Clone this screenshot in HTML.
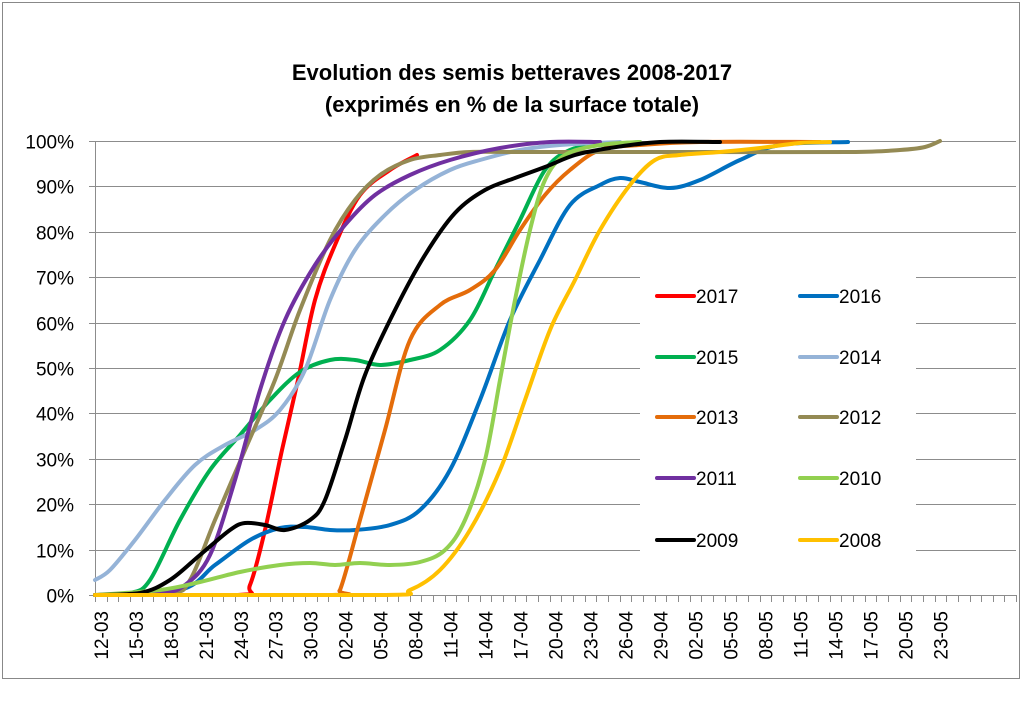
<!DOCTYPE html>
<html><head><meta charset="utf-8"><style>
body{margin:0;background:#fff;width:1024px;height:720px;overflow:hidden}
text{font-family:"Liberation Sans",sans-serif}
</style></head><body>
<svg id="s" width="1024" height="720" xmlns="http://www.w3.org/2000/svg">
<rect x="2.5" y="2.5" width="1017" height="676" fill="#fff" stroke="#888" stroke-width="1"/>
<text x="512" y="80" font-size="22" font-weight="bold" text-anchor="middle">Evolution des semis betteraves 2008-2017</text>
<text x="512" y="112" font-size="22" font-weight="bold" text-anchor="middle">(exprimés en % de la surface totale)</text>
<g id="grid" stroke="#8c8c8c" stroke-width="1"></g>
<g id="lab" font-size="19" fill="#000"></g>
<g id="series" fill="none" stroke-width="4" stroke-linejoin="round" stroke-linecap="round"></g>
<g id="leg" font-size="19"></g>
</svg>
<script>
var NS="http://www.w3.org/2000/svg";
function el(t,a,p,txt){var e=document.createElementNS(NS,t);for(var k in a)e.setAttribute(k,a[k]);if(txt!=null)e.textContent=txt;document.getElementById(p).appendChild(e);return e;}
var L=95,R=1016,Y0=595,Y100=141,cw=11.66;
for(var i=0;i<=10;i++){var y=Y0-(Y0-Y100)*i/10;y=Math.round(y)+0.5;
 if(i>=1&&i<=9&&y>262&&y<570){el("line",{x1:L,y1:y,x2:640,y2:y},"grid");el("line",{x1:916,y1:y,x2:R,y2:y},"grid");}
 else el("line",{x1:L-6,y1:y,x2:R,y2:y},"grid");
 if(i>=1&&i<=9&&y>262&&y<570) el("line",{x1:L-6,y1:y,x2:L,y2:y},"grid");
 el("text",{x:74,y:y+7,"text-anchor":"end"},"lab",(i*10)+"%");}
el("line",{x1:L+0.5,y1:Y100,x2:L+0.5,y2:Y0+6},"grid");
for(var d=0;d<=79;d++){var x=Math.round(L+d*cw)+0.5;el("line",{x1:x,y1:Y0,x2:x,y2:Y0+7},"grid");}
var labs=["12-03","15-03","18-03","21-03","24-03","27-03","30-03","02-04","05-04","08-04","11-04","14-04","17-04","20-04","23-04","26-04","29-04","02-05","05-05","08-05","11-05","14-05","17-05","20-05","23-05"];
labs.forEach(function(t,k){var x=L+(k*3+0.5)*cw+7;el("text",{x:x,y:611,"text-anchor":"end",transform:"rotate(-90 "+x+" 611)"},"lab",t);});
var S=[
["#ff0000",[[95,595],[238,595],[250,585],[265,530],[282,450],[298,380],[315,300],[335,245],[360,195],[390,170],[417,155]]],
["#0070c0",[[95,595],[180,590],[215,565],[250,540],[280,528],[305,527],[330,530],[355,530],[390,525],[420,510],[450,470],[480,400],[510,320],[540,260],[570,205],[600,185],[620,178],[640,182],[670,188],[700,180],[740,160],[780,145],[848,142]]],
["#00b050",[[95,595],[130,593],[150,580],[180,520],[210,470],[240,435],[270,400],[300,372],[330,360],[355,360],[380,365],[410,360],[440,350],[470,320],[495,270],[520,220],[545,170],[570,150],[600,145],[640,142]]],
["#95b3d7",[[95,580],[110,570],[135,540],[165,500],[195,465],[225,445],[255,430],[280,410],[305,370],[330,300],[355,250],[385,215],[415,190],[450,170],[480,160],[520,150],[560,145],[620,142]]],
["#e46c0a",[[95,595],[330,595],[340,590],[360,520],[385,430],[410,340],[440,305],[470,290],[495,270],[520,230],[545,195],[570,170],[600,150],[640,145],[700,142],[820,142]]],
["#948a54",[[95,595],[170,593],[190,580],[215,520],[245,450],[275,380],[300,310],[330,240],[355,200],[380,175],[410,160],[440,155],[470,152],[520,152],[600,152],[700,152],[850,152],[900,150],[925,147],[940,141]]],
["#7030a0",[[95,595],[160,593],[185,585],[210,555],[235,480],[260,390],[285,320],[315,265],[345,225],[375,195],[410,175],[450,160],[500,148],[550,142],[600,142]]],
["#92d050",[[95,595],[160,590],[200,582],[240,572],[280,565],[310,563],[335,565],[360,563],[390,565],[420,562],[445,550],[465,520],[485,460],[500,380],[515,300],[530,230],[545,180],[565,155],[600,145],[640,142]]],
["#000000",[[95,595],[140,593],[170,580],[200,555],[230,530],[245,523],[265,525],[285,530],[310,520],[325,500],[345,440],[365,375],[395,310],[425,255],[455,213],[485,190],[515,178],[545,167],[575,155],[610,148],[660,142],[720,142]]],
["#ffc000",[[95,595],[380,595],[410,590],[440,570],[470,530],[500,470],[525,400],[550,330],[575,280],[600,230],[630,185],[655,160],[680,155],[720,152],[760,148],[800,143],[830,142]]]];
S.forEach(function(s){var p=s[1],d="M"+p[0][0]+","+p[0][1];
 for(var i=0;i<p.length-1;i++){var a=p[i-1]||p[i],b=p[i],c=p[i+1],e=p[i+2]||c;
  var c1x=b[0]+(c[0]-a[0])/6,c1y=b[1]+(c[1]-a[1])/6,c2x=c[0]-(e[0]-b[0])/6,c2y=c[1]-(e[1]-b[1])/6;
  c1y=Math.min(c1y,595);c2y=Math.min(c2y,595);
  d+=" C"+c1x.toFixed(1)+","+c1y.toFixed(1)+" "+c2x.toFixed(1)+","+c2y.toFixed(1)+" "+c[0]+","+c[1];}
 el("path",{d:d,stroke:s[0]},"series");});
var lg=[["2017","#ff0000"],["2016","#0070c0"],["2015","#00b050"],["2014","#95b3d7"],["2013","#e46c0a"],["2012","#948a54"],["2011","#7030a0"],["2010","#92d050"],["2009","#000000"],["2008","#ffc000"]];
var rows=[296,357,417,478,540];
lg.forEach(function(g,k){var c=k%2,r=Math.floor(k/2),x=c?800:657,y=rows[r];
 el("line",{x1:x,y1:y,x2:x+37,y2:y,stroke:g[1],"stroke-width":4,"stroke-linecap":"round"},"leg");
 el("text",{x:x+39,y:y+7},"leg",g[0]);});
</script>
</body></html>
